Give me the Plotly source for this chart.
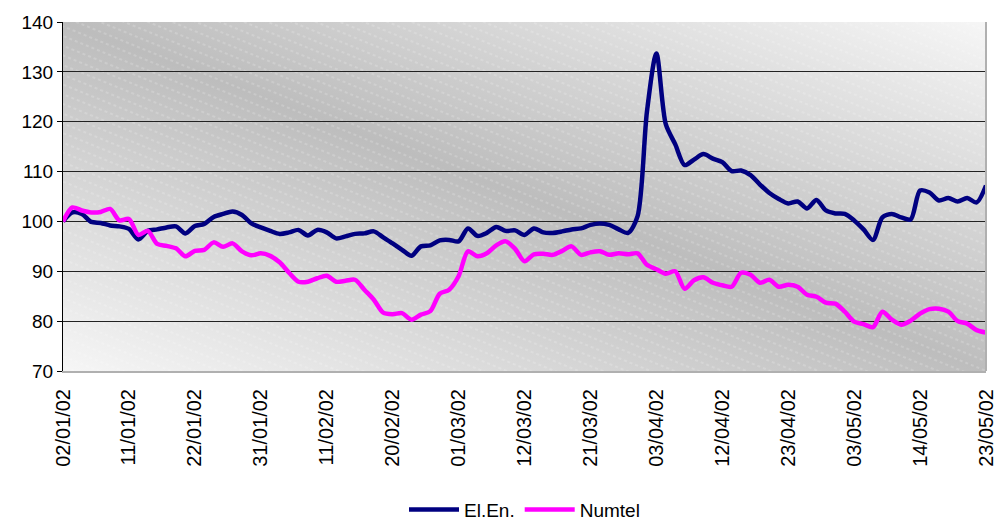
import base64
import plotly.graph_objects as go

dates = [
    "02/01/02", "03/01/02", "04/01/02", "07/01/02", "08/01/02", "09/01/02", "10/01/02",
    "11/01/02", "14/01/02", "15/01/02", "16/01/02", "17/01/02", "18/01/02", "21/01/02",
    "22/01/02", "23/01/02", "24/01/02", "25/01/02", "28/01/02", "29/01/02", "30/01/02",
    "31/01/02", "01/02/02", "04/02/02", "05/02/02", "06/02/02", "07/02/02", "08/02/02",
    "11/02/02", "12/02/02", "13/02/02", "14/02/02", "15/02/02", "18/02/02", "19/02/02",
    "20/02/02", "21/02/02", "22/02/02", "25/02/02", "26/02/02", "27/02/02", "28/02/02",
    "01/03/02", "04/03/02", "05/03/02", "06/03/02", "07/03/02", "08/03/02", "11/03/02",
    "12/03/02", "13/03/02", "14/03/02", "15/03/02", "18/03/02", "19/03/02", "20/03/02",
    "21/03/02", "22/03/02", "25/03/02", "26/03/02", "27/03/02", "28/03/02", "02/04/02",
    "03/04/02", "04/04/02", "05/04/02", "08/04/02", "09/04/02", "10/04/02", "11/04/02",
    "12/04/02", "15/04/02", "16/04/02", "17/04/02", "18/04/02", "19/04/02", "22/04/02",
    "23/04/02", "24/04/02", "25/04/02", "26/04/02", "29/04/02", "30/04/02", "02/05/02",
    "03/05/02", "06/05/02", "07/05/02", "08/05/02", "09/05/02", "10/05/02", "13/05/02",
    "14/05/02", "15/05/02", "16/05/02", "17/05/02", "20/05/02", "21/05/02", "22/05/02",
    "23/05/02",
]

el_en = [
    100, 101.8, 101.5, 99.9, 99.7, 99.2, 99.0, 98.5, 96.4, 98.1,
    98.4, 98.8, 99.0, 97.6, 99.1, 99.5, 100.9, 101.5, 102.0, 101.3,
    99.6, 98.8, 98.1, 97.5, 97.8, 98.3, 97.2, 98.3, 97.8, 96.6,
    97.0, 97.5, 97.6, 98.0, 96.8, 95.6, 94.3, 93.1, 95.0, 95.2,
    96.2, 96.3, 96.0, 98.6, 97.1, 97.7, 98.9, 98.1, 98.2, 97.3,
    98.6, 97.8, 97.7, 98.0, 98.4, 98.6, 99.3, 99.6, 99.3, 98.4,
    97.7, 101.0, 122.0, 133.7, 119.5, 115.5, 111.3, 112.4, 113.5, 112.6,
    111.9, 110.1, 110.2, 109.3, 107.4, 105.7, 104.5, 103.6, 104.0, 102.6,
    104.3, 102.2, 101.6, 101.5, 100.2, 98.4, 96.3, 100.8, 101.5, 100.8,
    100.4, 106.2, 105.8, 104.2, 104.7, 104.0, 104.7, 103.8, 107.2,
]

numtel = [
    100, 102.8, 102.2, 101.8, 101.9, 102.5, 100.2, 100.5, 97.3, 98.1,
    95.5, 95.1, 94.6, 93.0, 94.1, 94.3, 95.8, 94.9, 95.6, 94.0,
    93.2, 93.6, 93.1, 91.8, 89.7, 87.9, 87.9, 88.6, 89.1, 87.9,
    88.1, 88.3, 86.3, 84.3, 81.7, 81.4, 81.6, 80.3, 81.3, 82.0,
    85.5, 86.3, 89.0, 94.0, 93.0, 93.6, 95.2, 96.0, 94.5, 92.0,
    93.4, 93.5, 93.3, 94.1, 95.0, 93.3, 93.8, 94.0, 93.3, 93.6,
    93.4, 93.6, 91.3, 90.4, 89.5, 90.0, 86.5, 88.2, 88.8, 87.7,
    87.2, 86.9, 89.7, 89.3, 87.7, 88.3, 86.9, 87.3, 86.9, 85.3,
    84.9, 83.7, 83.5, 81.9, 79.9, 79.4, 78.8, 81.9, 80.3, 79.3,
    80.1, 81.5, 82.4, 82.5, 81.9, 80.0, 79.5, 78.2, 77.7,
]

tick_labels = dates[::7]

svg = (
    '<svg xmlns="http://www.w3.org/2000/svg" width="925" height="349" '
    'viewBox="0 0 925 349" preserveAspectRatio="none">'
    '<defs><linearGradient id="g" x1="0" y1="1" x2="1" y2="0">'
    '<stop offset="0" stop-color="#f6f6f6"/>'
    '<stop offset="0.5" stop-color="#bdbdbd"/>'
    '<stop offset="1" stop-color="#f6f6f6"/>'
    '</linearGradient>'
    '<pattern id="p" width="24" height="9" patternUnits="userSpaceOnUse" '
    'patternTransform="rotate(22)">'
    '<line x1="0" y1="4" x2="3" y2="4" stroke="white" stroke-opacity="0.35" stroke-width="1"/>'
    '<line x1="6" y1="4" x2="9" y2="4" stroke="white" stroke-opacity="0.35" stroke-width="1"/>'
    '<line x1="12" y1="4" x2="15" y2="4" stroke="white" stroke-opacity="0.35" stroke-width="1"/>'
    '<line x1="18" y1="4" x2="21" y2="4" stroke="white" stroke-opacity="0.35" stroke-width="1"/>'
    '</pattern></defs>'
    '<rect width="925" height="349" fill="url(#g)"/>'
    '<rect width="925" height="349" fill="url(#p)"/></svg>'
)
bg_src = "data:image/svg+xml;base64," + base64.b64encode(svg.encode()).decode()

fig = go.Figure()
fig.add_trace(go.Scatter(
    x=dates, y=el_en, name="El.En.", mode="lines",
    line=dict(color="#000080", width=4.5, shape="spline", smoothing=0.8),
))
fig.add_trace(go.Scatter(
    x=dates, y=numtel, name="Numtel", mode="lines",
    line=dict(color="#FF00FF", width=4.5, shape="spline", smoothing=0.8),
))

fig.add_layout_image(dict(
    source=bg_src, xref="paper", yref="paper", x=0, y=1, sizex=1, sizey=1,
    sizing="stretch", layer="below", xanchor="left", yanchor="top",
))
fig.add_shape(type="line", xref="paper", yref="paper", x0=1, x1=1, y0=0, y1=1,
              line=dict(color="#b0b0b0", width=2))

fig.update_layout(
    width=995, height=520,
    margin=dict(l=63, r=9, t=22, b=149, autoexpand=False),
    paper_bgcolor="white",
    plot_bgcolor="rgba(0,0,0,0)",
    font=dict(family="Liberation Sans, Arial, sans-serif", color="black", size=19),
    showlegend=True,
    legend=dict(orientation="h", x=0.5, xanchor="center", yref="container",
                y=0.02, yanchor="middle", font=dict(size=19),
                bgcolor="rgba(0,0,0,0)", itemwidth=50),
    xaxis=dict(
        type="category", categoryorder="array", categoryarray=dates,
        range=[0, len(dates) - 1], tickmode="array", tickvals=tick_labels,
        ticktext=tick_labels, tickangle=-90, tickfont=dict(size=20),
        showgrid=False, showline=True, linecolor="#b0b0b0", linewidth=2,
        ticks="", ticklabelstandoff=8, zeroline=False,
    ),
    yaxis=dict(
        range=[70, 140], dtick=10, showgrid=True, gridcolor="#222222",
        gridwidth=1, showline=True, linecolor="black", linewidth=1,
        ticks="outside", ticklen=5, tickcolor="black", tickfont=dict(size=19),
        zeroline=False,
    ),
)

# remove the default page margin so the 995x520 figure fills the window exactly
fig.write_html(
    "out.html",
    config={"displayModeBar": False},
    post_script="document.body.style.margin='0';document.body.style.overflow='hidden';",
)
